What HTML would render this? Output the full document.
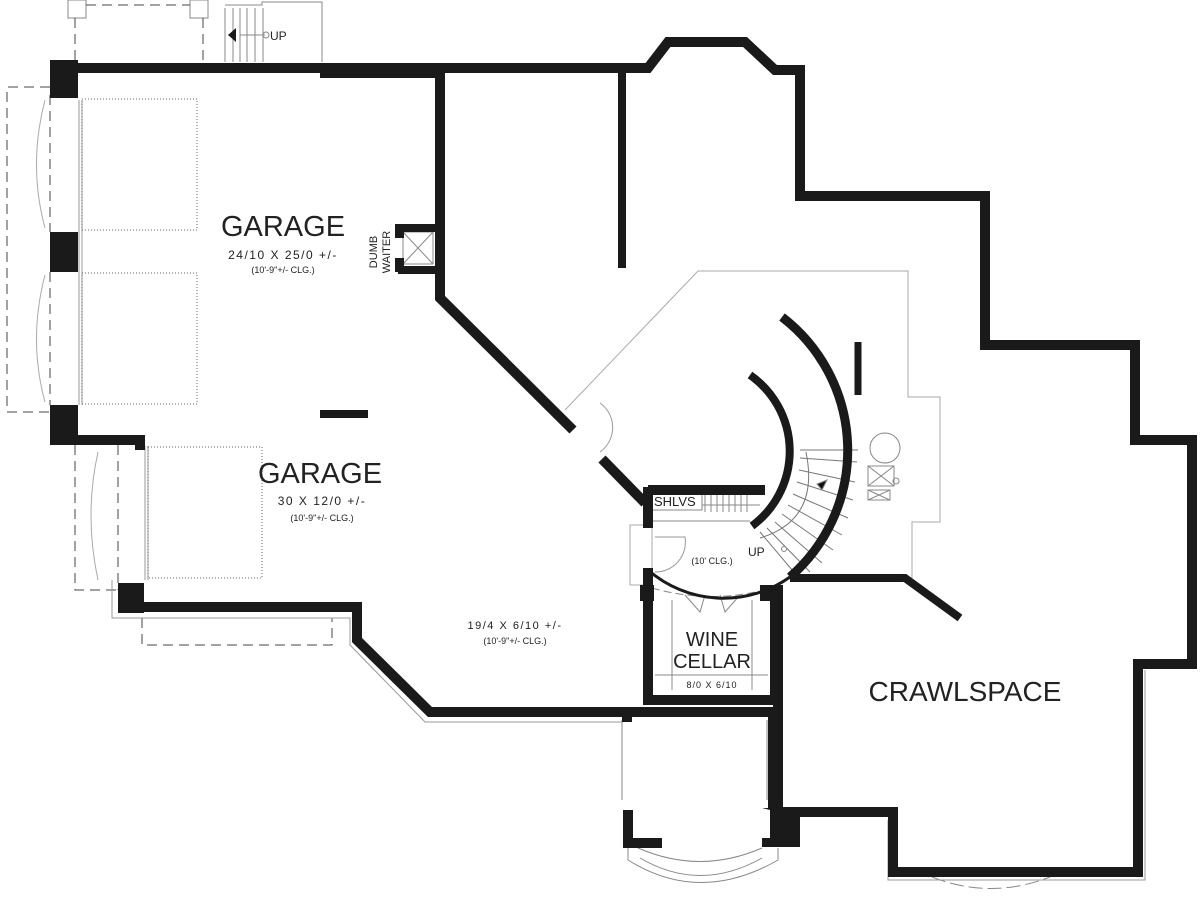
<!DOCTYPE html>
<html><head><meta charset="utf-8"><style>
html,body{margin:0;padding:0;background:#fff;}
svg{display:block;}
text{font-family:"Liberation Sans",sans-serif;fill:#222;}
</style></head><body>
<svg width="1200" height="901" viewBox="0 0 1200 901" xmlns="http://www.w3.org/2000/svg">
<g fill="none" stroke="#888" stroke-width="1">
  <!-- top porch -->
  <rect x="68" y="0" width="18" height="18"/>
  <rect x="190" y="0" width="18" height="18"/>
  <path d="M75 18 V60 M203 18 V60" stroke-dasharray="10,6" stroke="#444"/>
  <path d="M86 5 H190" stroke-dasharray="10,6" stroke="#444"/>
  <path d="M225 5 H262 V2 H322 V62 M225 8 V62 M233 8 V62 M240 8 V62 M247 8 V62 M255 8 V62 M263 8 V62"/>
  <path d="M240 35 H265" />
  <circle cx="266" cy="35" r="3"/>
  <!-- left garage doors dashed -->
  <path d="M50 87 H7 V412 H50" stroke-dasharray="10,6" stroke="#444"/>
  <path d="M50 95 V232 M50 272 V405" stroke-dasharray="10,6" stroke="#444"/>
  <path d="M45 100 Q28 165 45 228 M45 275 Q28 340 45 402" stroke="#aaa"/>
  <path d="M79 100 V405 M82 100 V405" stroke="#999"/>
  <rect x="82" y="99" width="115" height="131" stroke-dasharray="1,2" stroke="#666"/>
  <rect x="82" y="273" width="115" height="131" stroke-dasharray="1,2" stroke="#666"/>
  <!-- lower garage door -->
  <path d="M75 445 V590 H118 M118 445 V590" stroke-dasharray="10,6" stroke="#444"/>
  <path d="M98 452 Q84 515 98 580" stroke="#aaa"/>
  <path d="M145 446 V580 M148 446 V580" stroke="#999"/>
  <rect x="148" y="447" width="114" height="131" stroke-dasharray="1,2" stroke="#666"/>
  <path d="M142 618 V645 H332 V618" stroke-dasharray="10,6" stroke="#444"/>
  <path d="M112 580 V618 H350 V645 L425 722 H622" stroke="#999"/>
  <!-- stair gray outline -->
  <path d="M565 410 L698 271 H908 V397 H940 V522 H912 V578" stroke="#aaa"/>
  <path d="M630 525 H652 V585 H630 Z" stroke="#aaa"/>
  <!-- dumbwaiter -->
  <rect x="403" y="232" width="30" height="32"/>
  <path d="M403 232 L433 264 M433 232 L403 264"/>
  <!-- shelves -->
  <rect x="652" y="490" width="50" height="20"/>
  <path d="M705 492 V512 M711 492 V512 M717 492 V512 M723 492 V512 M729 492 V512 M735 492 V512 M741 492 V512 M747 492 V512 M702 505 H760"/>
  <path d="M652 521 H750"/>
  <!-- door swings -->
  <path d="M655 537 H685 A30 30 0 0 1 655 572" stroke="#999"/>
  <path d="M600 403 A30 30 0 0 1 600 452" stroke="#999"/>
  <!-- stair treads -->
  <g stroke="#777">
    <path d="M800 450 H858 M800 458 L857 462 M799 470 L855 482 M797 482 L853 500 M793 494 L848 518 M788 505 L842 535 M782 514 L833 550 M775 522 L822 563 M767 528 L810 572 M760 532 L798 577"/>
    <path d="M806 452 Q820 520 760 538"/>
  </g>
  <path d="M817 484 L827 480 L822 490 Z" fill="#111"/>
  <circle cx="784" cy="549" r="2.5"/>
  <!-- mech -->
  <circle cx="885" cy="448" r="15"/>
  <rect x="868" y="466" width="26" height="20"/>
  <path d="M868 466 L894 486 M894 466 L868 486"/>
  <rect x="868" y="490" width="22" height="10"/>
  <path d="M868 490 L890 500 M890 490 L868 500"/>
  <circle cx="896" cy="481" r="3"/>
  <!-- wine cellar interiors -->
  <path d="M672 600 V690 M752 600 V690 M655 675 H768"/>
  <path d="M652 588 Q712 605 772 588" stroke-dasharray="8,4"/>
  <path d="M685 595 L700 612 L705 595 M740 595 L725 612 L720 595"/>
  <!-- porch bottom -->
  <path d="M622 720 V800 M767 720 V800"/>
  <path d="M638 848 Q700 875 762 848 M640 858 Q700 893 762 858 M628 848 V860 Q700 905 778 860 V848"/>
  <path d="M932 877 Q990 900 1050 877" stroke-dasharray="14,5"/>
  <path d="M888 820 V880 H1145 V670" stroke="#999"/>
</g>
<!-- thick walls -->
<g fill="none" stroke="#1a1a1a" stroke-width="10" stroke-linejoin="miter">
  <path d="M55 68 H648 L668 42 H745 L775 70 H800 V196 H985 V345 H1135 V440 H1192 V664 H1138 V872 H893 V812 H778 V585"/>
  <path d="M320 72 H440" stroke-width="12"/>
  <path d="M440 68 V298 L573 430"/>
  <path d="M602 459 L645 503"/>
  <path d="M622 68 V268" stroke-width="8"/>
  <path d="M320 414 H368" stroke-width="8"/>
  <path d="M140 440 V445" />
  <path d="M55 440 H140 V450"/>
  <path d="M140 607 H357 V640 L430 712 H778"/>
  <path d="M648 487 V528 M648 568 V700 H775 V590"/>
  <path d="M648 490 H765"/>
  <path d="M790 578 H905 L960 618" stroke-width="8"/>
  <path d="M858 342 V395" stroke-width="7"/>
  <path d="M398 228 H440 M398 270 H440" stroke-width="8"/>
  <path d="M773 710 V808"/>
</g>
<g fill="none" stroke="#1a1a1a">
  <path d="M782 317 A168 168 0 0 1 790 577" stroke-width="9"/>
  <path d="M750 375 A93 93 0 0 1 752 526" stroke-width="8"/>
  <path d="M648 570 A115 115 0 0 0 790 577" stroke-width="3"/>
</g>
<g fill="#1a1a1a">
  <rect x="50" y="60" width="28" height="38"/>
  <rect x="50" y="232" width="28" height="40"/>
  <rect x="50" y="405" width="28" height="40"/>
  <rect x="118" y="583" width="26" height="30"/>
  <rect x="395" y="224" width="9" height="14"/>
  <rect x="395" y="258" width="9" height="14"/>
  <path d="M623 810 H633 V838 H662 V848 H623 Z"/>
  <path d="M762 808 H800 V847 H762 V838 H770 V810 Z"/>
  <rect x="640" y="585" width="14" height="16"/>
  <rect x="760" y="585" width="16" height="16"/>
  <rect x="622" y="714" width="10" height="8"/>
  <path d="M228 35 L236 28 V42 Z"/>
</g>
<!-- labels -->
<text x="283" y="236" font-size="29" text-anchor="middle" font-family="Liberation Serif, serif">GARAGE</text>
<text x="283" y="259" font-size="12" text-anchor="middle" letter-spacing="1.5">24/10 X 25/0 +/-</text>
<text x="283" y="273" font-size="9" text-anchor="middle">(10'-9"+/- CLG.)</text>
<text x="320" y="483" font-size="29" text-anchor="middle" font-family="Liberation Serif, serif">GARAGE</text>
<text x="322" y="505" font-size="12" text-anchor="middle" letter-spacing="1.5">30 X 12/0 +/-</text>
<text x="322" y="521" font-size="9" text-anchor="middle">(10'-9"+/- CLG.)</text>
<text x="515" y="629" font-size="11" text-anchor="middle" letter-spacing="1.5">19/4 X 6/10 +/-</text>
<text x="515" y="644" font-size="9" text-anchor="middle">(10'-9"+/- CLG.)</text>
<text x="712" y="646" font-size="20" text-anchor="middle" font-family="Liberation Serif, serif">WINE</text>
<text x="712" y="668" font-size="20" text-anchor="middle" font-family="Liberation Serif, serif">CELLAR</text>
<text x="712" y="688" font-size="9" text-anchor="middle" letter-spacing="1">8/0 X 6/10</text>
<text x="965" y="701" font-size="28" text-anchor="middle" font-family="Liberation Serif, serif">CRAWLSPACE</text>
<text x="654" y="506" font-size="13">SHLVS</text>
<text x="712" y="564" font-size="9" text-anchor="middle">(10' CLG.)</text>
<text x="748" y="556" font-size="12">UP</text>
<text x="270" y="40" font-size="12">UP</text>
<text transform="translate(377,252) rotate(-90)" font-size="11" text-anchor="middle">DUMB</text>
<text transform="translate(390,252) rotate(-90)" font-size="11" text-anchor="middle">WAITER</text>
</svg>
</body></html>
